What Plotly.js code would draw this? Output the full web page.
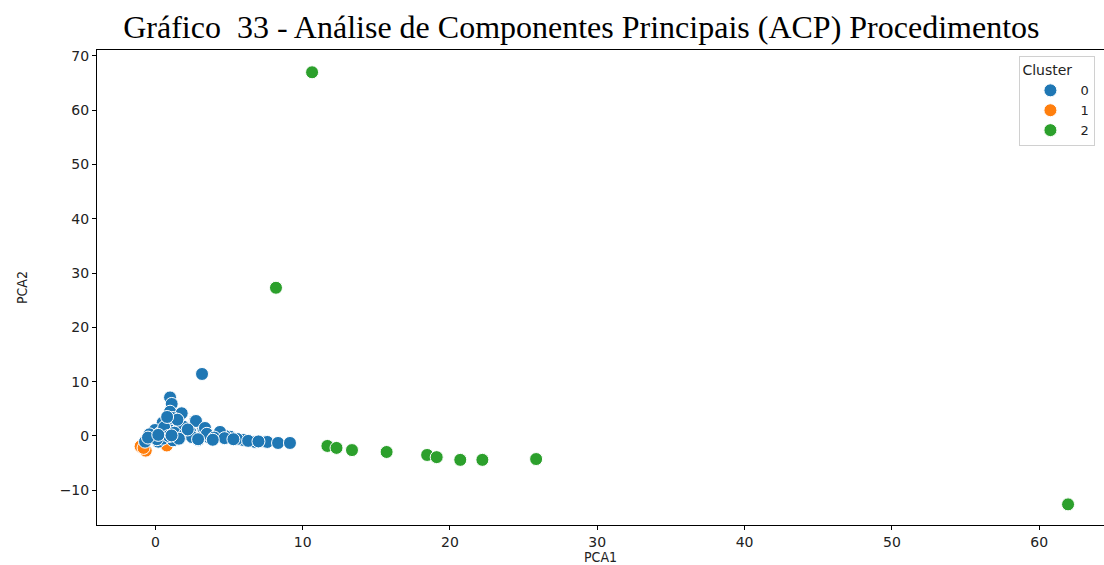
<!DOCTYPE html>
<html>
<head>
<meta charset="utf-8">
<script src="https://cdn.plot.ly/plotly-3.0.1.min.js"></script>
<style>html,body{margin:0;padding:0;background:#fff;}#chart{width:1104px;height:565px;}</style>
</head>
<body>
<div id="chart"></div>
<script>
// Cluster 0 (blue)
const c0x = [3.17, 1.0, 1.11, 1.0, 1.79, 0.5, 1.45, 2.7, -0.02, 0.88, 2.36, 3.26, -0.36, 0.77, 1.68, 3.71, 4.28, 5.07, 5.97, 7.46, -0.7, 2.92, 0.2, 1.9, 6.78, 7.6, 8.33, 9.14, 4.73, 5.55, 2.76, 3.37, 1.2, 4.39, 0.3, 0.6, 1.3, 2.0, 2.5, 3.5, 4.0, 4.7, 5.3, 6.3, 7.0, 0.5, 1.2, 2.2, 1.5, 0.8, -0.4, 0.1, -0.5, 0.9, 1.6, 2.9, 3.9, 0.2, 1.1];
const c0y = [11.42, 7.1, 5.9, 4.47, 4.18, 2.45, 2.15, 2.8, 1.1, 1.23, 0.79, 1.42, -0.13, -0.13, -0.24, -0.42, 0.18, -0.13, -0.74, -1.05, -1.05, -0.74, -1.05, 1.71, -1.1, -1.1, -1.29, -1.29, 0.0, -0.55, 2.76, 1.47, 3.3, 0.74, 0.5, 1.6, 0.6, 0.3, -0.2, 0.4, -0.3, -0.4, -0.6, -0.9, -1.0, -0.5, -0.8, 1.2, 3.0, 3.5, 0.3, -0.6, -0.3, 0.0, -0.5, -0.6, -0.7, 0.2, 0.1];
// Cluster 1 (orange)
const c1x = [-1.0, -0.65, 0.78, -0.8];
const c1y = [-1.9, -2.7, -1.75, -2.2];
// Cluster 2 (green)
const c2x = [10.64, 8.19, 11.68, 12.3, 13.35, 15.7, 18.45, 19.1, 20.7, 22.2, 25.85, 61.96];
const c2y = [67.0, 27.3, -1.84, -2.2, -2.6, -2.95, -3.5, -3.9, -4.4, -4.4, -4.25, -12.6];
const clusterNames = ["0", "1", "2"];
const clusterColors = ["#1f77b4", "#ff7f0e", "#2ca02c"];

function mk(x, y, i, rank) {
  return {
    x: x, y: y, type: 'scatter', mode: 'markers', name: clusterNames[i],
    legendrank: rank,
    marker: {color: clusterColors[i], size: 13, line: {color: '#ffffff', width: 1}},
    hoverinfo: 'x+y'
  };
}
const data = [mk(c1x, c1y, 1, 2), mk(c0x, c0y, 0, 1), mk(c2x, c2y, 2, 3)];

const tickFont = {family: 'DejaVu Sans, sans-serif', size: 14, color: '#222'};
const labFont = {family: 'Liberation Sans Narrow, DejaVu Sans Condensed, sans-serif', size: 14, color: '#222'};
const layout = {
  width: 1104, height: 565,
  paper_bgcolor: '#fff', plot_bgcolor: '#fff',
  margin: {l: 97, r: 0, t: 50, b: 40},
  title: {
    text: 'Gráfico  33 - Análise de Componentes Principais (ACP) Procedimentos',
    font: {family: 'Liberation Serif, Times New Roman, serif', size: 32, color: '#000'},
    xref: 'paper', x: 0.481, xanchor: 'center',
    yref: 'container', y: 0.9327, yanchor: 'bottom'
  },
  xaxis: {
    range: [-3.96, 64.4], tickvals: [0, 10, 20, 30, 40, 50, 60],
    showgrid: false, zeroline: false, automargin: false,
    showline: true, linecolor: '#000', linewidth: 1, mirror: true,
    ticks: 'outside', ticklen: 4, tickcolor: '#000',
    tickfont: tickFont,
    title: {text: 'PCA1', standoff: 10, font: labFont}
  },
  yaxis: {
    range: [-16.4, 71.1], tickvals: [-10, 0, 10, 20, 30, 40, 50, 60, 70],
    showgrid: false, zeroline: false, automargin: false,
    showline: true, linecolor: '#000', linewidth: 1, mirror: false,
    ticks: 'outside', ticklen: 4, tickcolor: '#000',
    tickfont: tickFont,
    title: {text: 'PCA2', standoff: 28, font: labFont}
  },
  showlegend: true,
  legend: {
    x: 0.916, y: 0.987, xanchor: 'left', yanchor: 'top',
    bgcolor: '#fff', bordercolor: '#d0d0d0', borderwidth: 1,
    font: {family: 'DejaVu Sans, sans-serif', size: 13, color: '#222'},
    title: {text: 'Cluster', font: {family: 'DejaVu Sans, sans-serif', size: 14, color: '#222'}},
    itemwidth: 50, tracegroupgap: 0
  }
};
Plotly.newPlot('chart', data, layout, {displayModeBar: false, staticPlot: true});
</script>
</body>
</html>
